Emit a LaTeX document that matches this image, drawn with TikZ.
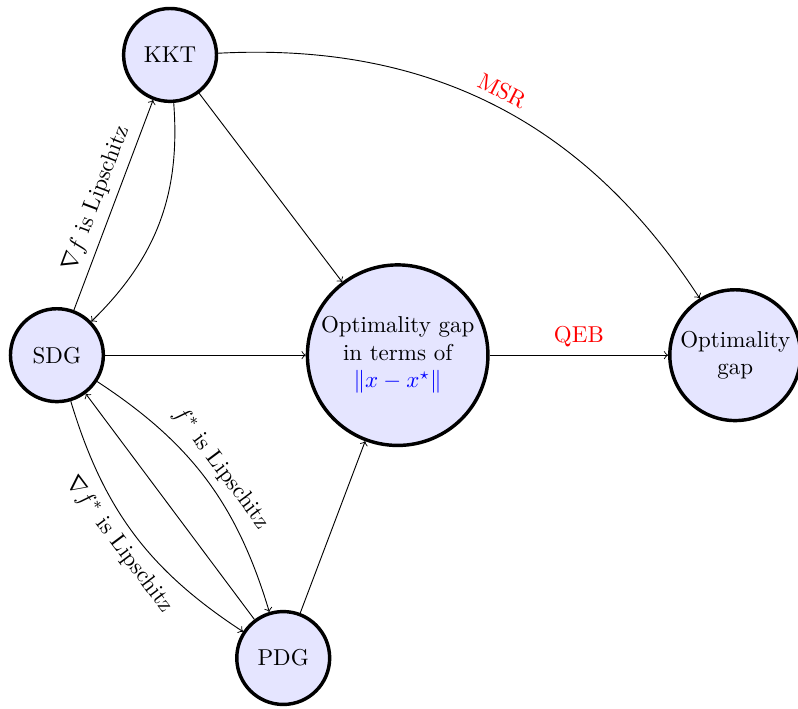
\documentclass[tikz,border=0pt]{standalone}
\usepackage{amsmath}
\begin{document}
\begin{tikzpicture}[x=1cm, y=1cm,
    state/.style={circle, draw, line width=1.5pt, fill=blue!10, minimum size=1.42cm, align=center},
    lbl/.style={sloped, font=\normalsize}]
      \useasboundingbox (-0.87,-5.40) rectangle (11.33,5.43);
      %
      \node[state] (sdg) at (0,0) {SDG};
      \node[state] (kkt) at (1.73,4.59) {KKT};
      \node[state] (pdg) at (3.46,-4.63) {PDG};
      \node[state, inner sep=0pt, minimum size=2.76cm] (gapx) at (5.21,0)
          {Optimality gap\\ in terms of\\ \textcolor{blue}{$\|x-x^\star\|$}};
      \node[state, inner sep=0pt, minimum size=2cm] (gap) at (10.37,0) {Optimality\\ gap};
      %
      \draw[->] (kkt) to[bend left=25] (sdg);
      \draw[->] (sdg) -- node[lbl, above] {$\nabla f$ is Lipschitz} (kkt);
      \draw[->] (kkt) -- (gapx);
      \draw[->] (kkt) to[bend left=30] node[lbl, above, red] {MSR} (gap);
      \draw[->] (sdg) -- (gapx);
      \draw[->] (gapx) -- node[above, red] {QEB} (gap);
      %
      \draw[->] (sdg) to[bend left=20] node[lbl, above] {$f^*$ is Lipschitz} (pdg);
      \draw[->] (pdg) -- (sdg);
      \draw[->] (sdg) to[bend right=20] node[lbl, below] {$\nabla f^*$ is Lipschitz} (pdg);
      \draw[->] (pdg) -- (gapx);
      %
    \end{tikzpicture}
\end{document}
